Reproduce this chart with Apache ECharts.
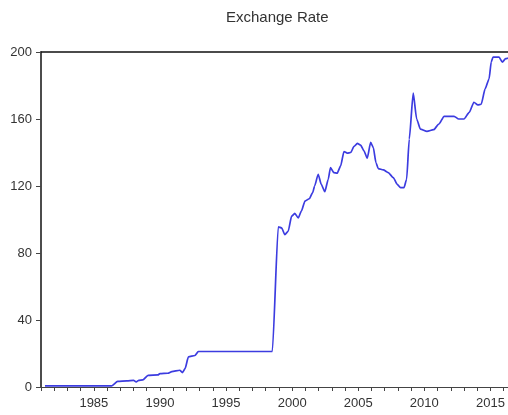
<!DOCTYPE html>
<html>
<head>
<meta charset="utf-8">
<script src="https://cdn.jsdelivr.net/npm/echarts@6/dist/echarts.min.js"></script>
<style>
  html, body { margin: 0; padding: 0; background: #fff; }
  #chart { width: 508px; height: 415px; }
</style>
</head>
<body>
<div id="chart"></div>
<script>
// Exchange rate, sampled at decimal-year dates
var dates = [
  1981.3, 1986.35, 1986.8, 1987.5, 1988.0, 1988.2, 1988.4, 1988.7, 1989.1, 1989.85,
  1990.0, 1990.6, 1990.9, 1991.5, 1991.7, 1991.9, 1992.15, 1992.65, 1992.9, 1998.5,
  1998.95, 1999.2, 1999.45, 1999.7, 1999.96, 2000.2, 2000.46, 2000.7, 2000.97, 2001.3,
  2001.55, 2001.7, 2001.97, 2002.2, 2002.47, 2002.73, 2002.9, 2003.15, 2003.4, 2003.67,
  2003.92, 2004.17, 2004.43, 2004.68, 2004.93, 2005.18, 2005.43, 2005.68, 2005.94, 2006.14,
  2006.34, 2006.51, 2006.9, 2007.27, 2007.65, 2007.95, 2008.2, 2008.46, 2008.66, 2008.86,
  2009.16, 2009.42, 2009.7, 2010.2, 2010.7, 2011.1, 2011.5, 2012.25, 2012.6, 2013.0,
  2013.4, 2013.75, 2014.05, 2014.3, 2014.6, 2014.9, 2015.06, 2015.2, 2015.65, 2015.9,
  2016.15, 2016.33
];
var rates = [
  0.7, 0.7, 3.4, 3.6, 4.0, 3.0, 4.0, 4.2, 7.0, 7.2,
  8.0, 8.2, 9.2, 10.0, 8.6, 11.0, 18.0, 18.8, 21.2, 21.2,
  95.6, 95.0, 91.0, 93.0, 102.0, 103.6, 101.0, 105.0, 111.0, 112.4,
  116.0, 120.0, 127.0, 121.0, 116.6, 124.0, 131.0, 128.0, 127.6, 132.0,
  140.6, 139.6, 140.0, 143.6, 145.4, 144.4, 141.0, 136.6, 146.0, 143.0,
  134.0, 130.4, 129.6, 128.0, 125.0, 121.0, 119.0, 119.0, 124.0, 148.0,
  175.4, 160.0, 154.0, 152.6, 153.6, 157.0, 161.6, 161.6, 160.0, 160.0,
  164.0, 170.0, 168.4, 168.8, 178.0, 184.0, 194.0, 197.0, 197.0, 194.0,
  196.0, 196.4
];
var yTicks = [0, 40, 80, 120, 160, 200];
var xStart = 1981;
var xEnd = 2016.33;

var points = dates.map(function (d, i) { return [d, rates[i]]; });
var labelFont = "'Liberation Sans', Arial, sans-serif";

var chart = echarts.init(document.getElementById('chart'), null, { renderer: 'canvas' });
chart.setOption({
  animation: false,
  backgroundColor: '#ffffff',
  title: {
    text: 'Exchange Rate',
    left: 221,
    top: 5,
    textStyle: { fontFamily: labelFont, fontSize: 15, fontWeight: 'normal', color: '#333' }
  },
  grid: { left: 41, right: 0, top: 52, bottom: 28, containLabel: false },
  xAxis: [{
    type: 'value',
    min: xStart,
    max: xEnd,
    interval: 1,
    axisLine: { show: true, onZero: false, lineStyle: { color: '#444', width: 1 } },
    axisTick: { show: true, length: 4, lineStyle: { color: '#444' } },
    axisLabel: {
      margin: 10,
      fontFamily: labelFont,
      fontSize: 13,
      color: '#333',
      showMaxLabel: false,
      formatter: function (v) { return (Math.round(v) === v && v % 5 === 0) ? String(v) : ''; }
    },
    splitLine: { show: false }
  }, {
    type: 'value',
    position: 'top',
    min: xStart,
    max: xEnd,
    axisLine: { show: true, onZero: false, lineStyle: { color: '#111', width: 1.5 } },
    axisTick: { show: false },
    axisLabel: { show: false },
    splitLine: { show: false }
  }],
  yAxis: {
    type: 'value',
    min: yTicks[0],
    max: yTicks[yTicks.length - 1],
    interval: 40,
    axisLine: { show: true, onZero: false, lineStyle: { color: '#111', width: 1.5 } },
    axisTick: { show: true, length: 5, lineStyle: { color: '#444' } },
    axisLabel: { margin: 9, fontFamily: labelFont, fontSize: 13, color: '#333' },
    splitLine: { show: false }
  },
  series: [{
    type: 'line',
    data: points,
    showSymbol: false,
    smooth: 0.2,
    smoothMonotone: 'x',
    lineStyle: { color: '#3c3ce0', width: 1.7 },
    clip: true
  }]
});
</script>
</body>
</html>
